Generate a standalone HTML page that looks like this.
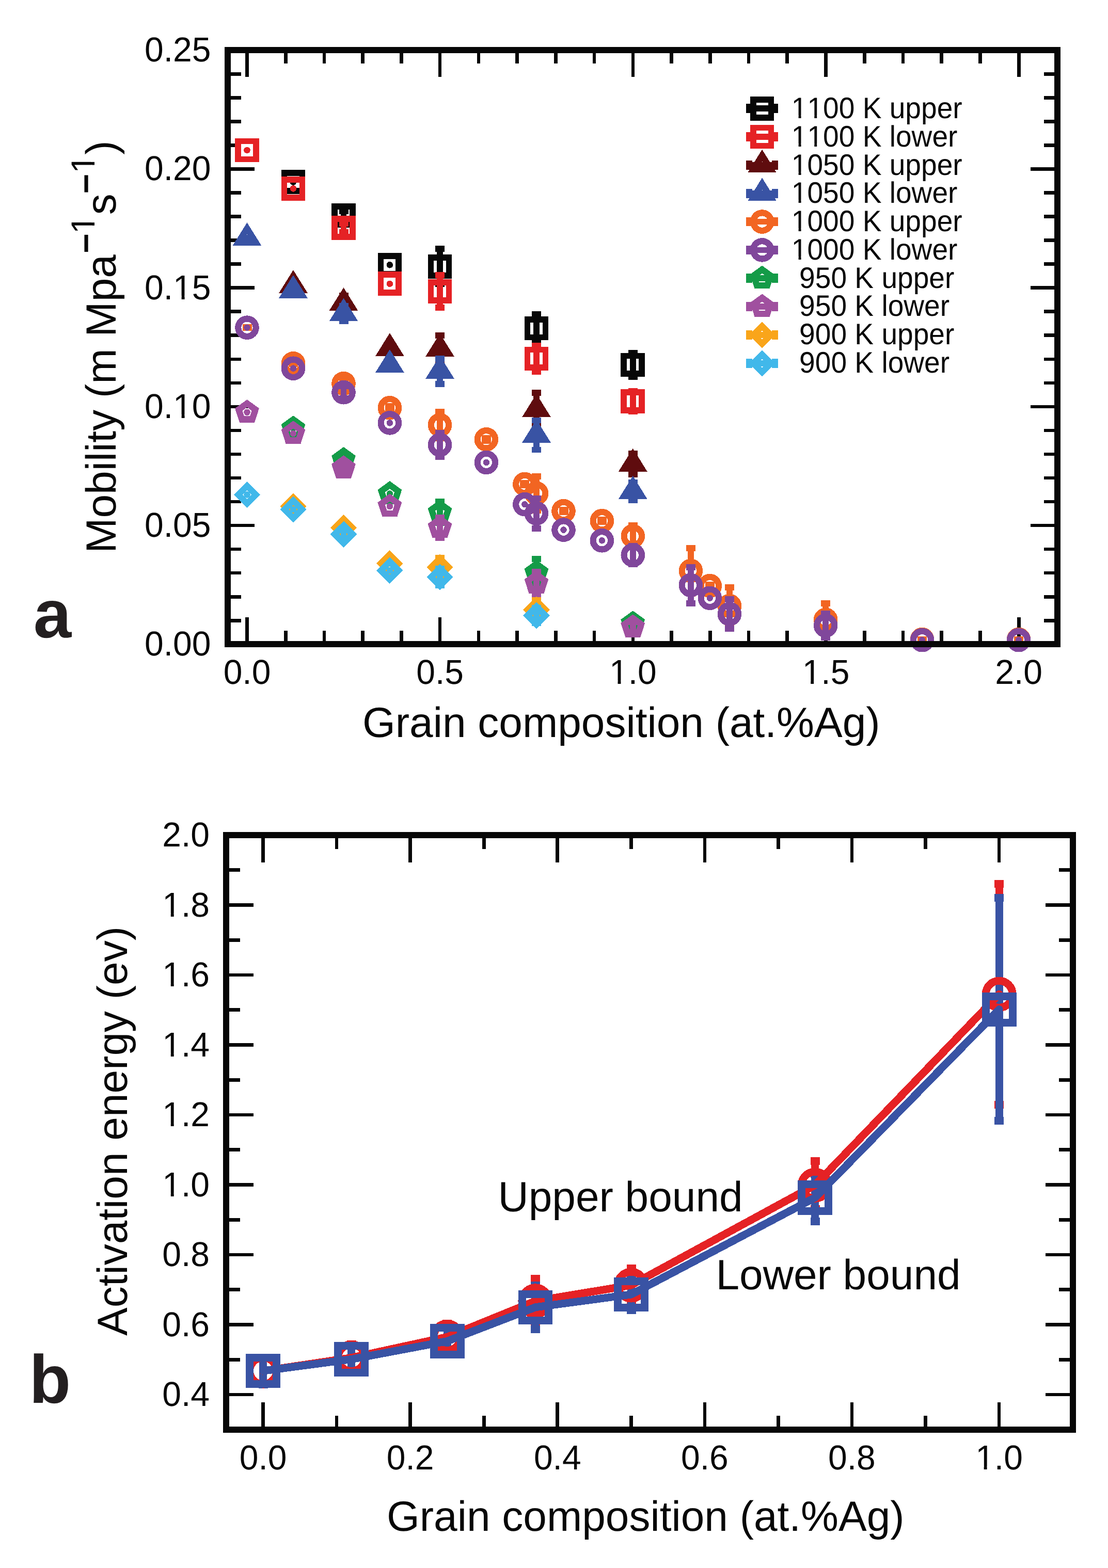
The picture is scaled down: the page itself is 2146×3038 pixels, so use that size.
<!DOCTYPE html>
<html lang="en"><head><meta charset="utf-8"><title>Figure</title>
<style>html,body{margin:0;padding:0;background:#fff}body{width:2146px;height:3038px;overflow:hidden}svg{display:block}.m{fill:#fff;stroke:none;shape-rendering:geometricPrecision}text{font-family:'Liberation Sans', Arial, Helvetica, sans-serif;fill:#070707;font-kerning:none;font-variant-ligatures:none;white-space:pre}</style></head><body>
<svg width="2146" height="3038" viewBox="0 0 2146 3038" shape-rendering="crispEdges" text-rendering="geometricPrecision">
<rect width="2146" height="3038" fill="#fff"/>
<g id="panel-a">
<g stroke="#070707" stroke-width="6.6" fill="none">
<path d="M478.5 97.2v52M478.5 1248.2v-52"/>
<path d="M553.24 97.2v26M553.24 1248.2v-26"/>
<path d="M627.97 97.2v26M627.97 1248.2v-26"/>
<path d="M702.71 97.2v26M702.71 1248.2v-26"/>
<path d="M777.44 97.2v26M777.44 1248.2v-26"/>
<path d="M852.17 97.2v52M852.17 1248.2v-52"/>
<path d="M926.91 97.2v26M926.91 1248.2v-26"/>
<path d="M1001.64 97.2v26M1001.64 1248.2v-26"/>
<path d="M1076.38 97.2v26M1076.38 1248.2v-26"/>
<path d="M1151.12 97.2v26M1151.12 1248.2v-26"/>
<path d="M1225.85 97.2v52M1225.85 1248.2v-52"/>
<path d="M1300.59 97.2v26M1300.59 1248.2v-26"/>
<path d="M1375.32 97.2v26M1375.32 1248.2v-26"/>
<path d="M1450.06 97.2v26M1450.06 1248.2v-26"/>
<path d="M1524.79 97.2v26M1524.79 1248.2v-26"/>
<path d="M1599.53 97.2v52M1599.53 1248.2v-52"/>
<path d="M1674.26 97.2v26M1674.26 1248.2v-26"/>
<path d="M1749 97.2v26M1749 1248.2v-26"/>
<path d="M1823.73 97.2v26M1823.73 1248.2v-26"/>
<path d="M1898.46 97.2v26M1898.46 1248.2v-26"/>
<path d="M1973.2 97.2v52M1973.2 1248.2v-52"/>
<path d="M441 1202.26h26M2048 1202.26h-26"/>
<path d="M441 1156.22h26M2048 1156.22h-26"/>
<path d="M441 1110.18h26M2048 1110.18h-26"/>
<path d="M441 1064.14h26M2048 1064.14h-26"/>
<path d="M441 1018.1h52M2048 1018.1h-52"/>
<path d="M441 972.06h26M2048 972.06h-26"/>
<path d="M441 926.02h26M2048 926.02h-26"/>
<path d="M441 879.98h26M2048 879.98h-26"/>
<path d="M441 833.94h26M2048 833.94h-26"/>
<path d="M441 787.9h52M2048 787.9h-52"/>
<path d="M441 741.86h26M2048 741.86h-26"/>
<path d="M441 695.82h26M2048 695.82h-26"/>
<path d="M441 649.78h26M2048 649.78h-26"/>
<path d="M441 603.74h26M2048 603.74h-26"/>
<path d="M441 557.7h52M2048 557.7h-52"/>
<path d="M441 511.66h26M2048 511.66h-26"/>
<path d="M441 465.62h26M2048 465.62h-26"/>
<path d="M441 419.58h26M2048 419.58h-26"/>
<path d="M441 373.54h26M2048 373.54h-26"/>
<path d="M441 327.5h52M2048 327.5h-52"/>
<path d="M441 281.46h26M2048 281.46h-26"/>
<path d="M441 235.42h26M2048 235.42h-26"/>
<path d="M441 189.38h26M2048 189.38h-26"/>
<path d="M441 143.34h26M2048 143.34h-26"/>
</g>
<g color="#070707" stroke="#070707" stroke-width="11.75" fill="none" stroke-linejoin="miter" stroke-miterlimit="10">
<circle cx="478.5" cy="291" r="6.3" stroke="none" fill="currentColor"/>
<rect x="461.05" y="273.55" width="34.9" height="34.9"/>
<circle cx="568" cy="352.6" r="6.3" stroke="none" fill="currentColor"/>
<rect x="550.55" y="335.15" width="34.9" height="34.9"/>
<rect x="659.62" y="409" width="11.75" height="16.8" stroke="none" fill="currentColor"/><rect x="656.5" y="403.12" width="18" height="11.75" stroke="none" fill="currentColor"/><rect x="656.5" y="419.92" width="18" height="11.75" stroke="none" fill="currentColor"/>
<rect x="648.05" y="399.95" width="34.9" height="34.9"/>
<circle cx="754.9" cy="513.3" r="6.3" stroke="none" fill="currentColor"/>
<rect x="737.45" y="495.85" width="34.9" height="34.9"/>
<rect x="846.12" y="482.2" width="11.75" height="68" stroke="none" fill="currentColor"/><rect x="843" y="476.33" width="18" height="11.75" stroke="none" fill="currentColor"/><rect x="843" y="544.33" width="18" height="11.75" stroke="none" fill="currentColor"/>
<rect x="834.55" y="498.75" width="34.9" height="34.9"/>
<rect x="1033.12" y="609" width="11.75" height="54.2" stroke="none" fill="currentColor"/><rect x="1030" y="603.12" width="18" height="11.75" stroke="none" fill="currentColor"/><rect x="1030" y="657.33" width="18" height="11.75" stroke="none" fill="currentColor"/>
<rect x="1021.55" y="618.65" width="34.9" height="34.9"/>
<rect x="1219.92" y="683.9" width="11.75" height="46" stroke="none" fill="currentColor"/><rect x="1216.8" y="678.02" width="18" height="11.75" stroke="none" fill="currentColor"/><rect x="1216.8" y="724.02" width="18" height="11.75" stroke="none" fill="currentColor"/>
<rect x="1208.35" y="689.45" width="34.9" height="34.9"/>
</g>
<g color="#e52225" stroke="#e52225" stroke-width="11.75" fill="none" stroke-linejoin="miter" stroke-miterlimit="10">
<circle cx="478.5" cy="291" r="6.3" stroke="none" fill="currentColor"/>
<rect x="461.05" y="273.55" width="34.9" height="34.9"/>
<circle cx="568" cy="365.4" r="6.3" stroke="none" fill="currentColor"/>
<rect x="550.55" y="347.95" width="34.9" height="34.9"/>
<rect x="659.62" y="433.1" width="11.75" height="16.8" stroke="none" fill="currentColor"/><rect x="656.5" y="427.23" width="18" height="11.75" stroke="none" fill="currentColor"/><rect x="656.5" y="444.02" width="18" height="11.75" stroke="none" fill="currentColor"/>
<rect x="648.05" y="424.05" width="34.9" height="34.9"/>
<circle cx="754.9" cy="549.8" r="6.3" stroke="none" fill="currentColor"/>
<rect x="737.45" y="532.35" width="34.9" height="34.9"/>
<rect x="846.12" y="532.7" width="11.75" height="63.4" stroke="none" fill="currentColor"/><rect x="843" y="526.82" width="18" height="11.75" stroke="none" fill="currentColor"/><rect x="843" y="590.23" width="18" height="11.75" stroke="none" fill="currentColor"/>
<rect x="834.55" y="546.95" width="34.9" height="34.9"/>
<rect x="1033.12" y="669.8" width="11.75" height="50.2" stroke="none" fill="currentColor"/><rect x="1030" y="663.92" width="18" height="11.75" stroke="none" fill="currentColor"/><rect x="1030" y="714.12" width="18" height="11.75" stroke="none" fill="currentColor"/>
<rect x="1021.55" y="677.45" width="34.9" height="34.9"/>
<rect x="1219.92" y="757.9" width="11.75" height="39" stroke="none" fill="currentColor"/><rect x="1216.8" y="752.02" width="18" height="11.75" stroke="none" fill="currentColor"/><rect x="1216.8" y="791.02" width="18" height="11.75" stroke="none" fill="currentColor"/>
<rect x="1208.35" y="759.95" width="34.9" height="34.9"/>
</g>
<g color="#5f0c0e" stroke="#5f0c0e" stroke-width="11.75" fill="none" stroke-linejoin="miter" stroke-miterlimit="10">
<circle cx="478.5" cy="461.3" r="6.3" stroke="none" fill="currentColor"/>
<path d="M478.5 431.1L506.3 475.8L450.7 475.8ZM478.5 454.2L484.35 463.6L472.65 463.6Z" fill="currentColor" fill-rule="evenodd" stroke="none"/>
<circle cx="568" cy="553.3" r="6.3" stroke="none" fill="currentColor"/>
<path d="M568 523.1L595.8 567.8L540.2 567.8ZM568 546.2L573.85 555.6L562.15 555.6Z" fill="currentColor" fill-rule="evenodd" stroke="none"/>
<rect x="659.62" y="572.9" width="11.75" height="28.8" stroke="none" fill="currentColor"/><rect x="656.5" y="567.02" width="18" height="11.75" stroke="none" fill="currentColor"/><rect x="656.5" y="595.82" width="18" height="11.75" stroke="none" fill="currentColor"/>
<path d="M665.5 557.1L693.3 601.8L637.7 601.8ZM665.5 580.2L671.35 589.6L659.65 589.6Z" fill="currentColor" fill-rule="evenodd" stroke="none"/>
<circle cx="754.9" cy="675.4" r="6.3" stroke="none" fill="currentColor"/>
<path d="M754.9 645.2L782.7 689.9L727.1 689.9ZM754.9 668.3L760.75 677.7L749.05 677.7Z" fill="currentColor" fill-rule="evenodd" stroke="none"/>
<rect x="846.12" y="649.9" width="11.75" height="52.8" stroke="none" fill="currentColor"/><rect x="843" y="644.02" width="18" height="11.75" stroke="none" fill="currentColor"/><rect x="843" y="696.82" width="18" height="11.75" stroke="none" fill="currentColor"/>
<path d="M852 646.1L879.8 690.8L824.2 690.8ZM852 669.2L857.85 678.6L846.15 678.6Z" fill="currentColor" fill-rule="evenodd" stroke="none"/>
<rect x="1033.12" y="760.9" width="11.75" height="65" stroke="none" fill="currentColor"/><rect x="1030" y="755.02" width="18" height="11.75" stroke="none" fill="currentColor"/><rect x="1030" y="820.02" width="18" height="11.75" stroke="none" fill="currentColor"/>
<path d="M1039 763.2L1066.8 807.9L1011.2 807.9ZM1039 786.3L1044.85 795.7L1033.15 795.7Z" fill="currentColor" fill-rule="evenodd" stroke="none"/>
<rect x="1219.92" y="879" width="11.75" height="40" stroke="none" fill="currentColor"/><rect x="1216.8" y="873.12" width="18" height="11.75" stroke="none" fill="currentColor"/><rect x="1216.8" y="913.12" width="18" height="11.75" stroke="none" fill="currentColor"/>
<path d="M1225.8 868.8L1253.6 913.5L1198 913.5ZM1225.8 891.9L1231.65 901.3L1219.95 901.3Z" fill="currentColor" fill-rule="evenodd" stroke="none"/>
</g>
<g color="#3953a4" stroke="#3953a4" stroke-width="11.75" fill="none" stroke-linejoin="miter" stroke-miterlimit="10">
<circle cx="478.5" cy="461.3" r="6.3" stroke="none" fill="currentColor"/>
<path d="M478.5 431.1L506.3 475.8L450.7 475.8ZM478.5 454.2L484.35 463.6L472.65 463.6Z" fill="currentColor" fill-rule="evenodd" stroke="none"/>
<circle cx="568" cy="563.1" r="6.3" stroke="none" fill="currentColor"/>
<path d="M568 532.9L595.8 577.6L540.2 577.6ZM568 556L573.85 565.4L562.15 565.4Z" fill="currentColor" fill-rule="evenodd" stroke="none"/>
<rect x="659.62" y="593.2" width="11.75" height="29" stroke="none" fill="currentColor"/><rect x="656.5" y="587.33" width="18" height="11.75" stroke="none" fill="currentColor"/><rect x="656.5" y="616.33" width="18" height="11.75" stroke="none" fill="currentColor"/>
<path d="M665.5 577.5L693.3 622.2L637.7 622.2ZM665.5 600.6L671.35 610L659.65 610Z" fill="currentColor" fill-rule="evenodd" stroke="none"/>
<circle cx="754.9" cy="707.2" r="6.3" stroke="none" fill="currentColor"/>
<path d="M754.9 677L782.7 721.7L727.1 721.7ZM754.9 700.1L760.75 709.5L749.05 709.5Z" fill="currentColor" fill-rule="evenodd" stroke="none"/>
<rect x="846.12" y="694.8" width="11.75" height="49" stroke="none" fill="currentColor"/><rect x="843" y="688.92" width="18" height="11.75" stroke="none" fill="currentColor"/><rect x="843" y="737.92" width="18" height="11.75" stroke="none" fill="currentColor"/>
<path d="M852 689.1L879.8 733.8L824.2 733.8ZM852 712.2L857.85 721.6L846.15 721.6Z" fill="currentColor" fill-rule="evenodd" stroke="none"/>
<rect x="1033.12" y="814.5" width="11.75" height="57" stroke="none" fill="currentColor"/><rect x="1030" y="808.62" width="18" height="11.75" stroke="none" fill="currentColor"/><rect x="1030" y="865.62" width="18" height="11.75" stroke="none" fill="currentColor"/>
<path d="M1039 812.8L1066.8 857.5L1011.2 857.5ZM1039 835.9L1044.85 845.3L1033.15 845.3Z" fill="currentColor" fill-rule="evenodd" stroke="none"/>
<rect x="1219.92" y="935.2" width="11.75" height="34" stroke="none" fill="currentColor"/><rect x="1216.8" y="929.33" width="18" height="11.75" stroke="none" fill="currentColor"/><rect x="1216.8" y="963.33" width="18" height="11.75" stroke="none" fill="currentColor"/>
<path d="M1225.8 922L1253.6 966.7L1198 966.7ZM1225.8 945.1L1231.65 954.5L1219.95 954.5Z" fill="currentColor" fill-rule="evenodd" stroke="none"/>
</g>
<g color="#f26522" stroke="#f26522" stroke-width="11.75" fill="none" stroke-linejoin="miter" stroke-miterlimit="10">
<rect x="472.62" y="634.2" width="11.75" height="1" stroke="none" fill="currentColor"/><rect x="469.5" y="628.33" width="18" height="11.75" stroke="none" fill="currentColor"/><rect x="469.5" y="629.33" width="18" height="11.75" stroke="none" fill="currentColor"/>
<circle cx="478.5" cy="634.7" r="17.2" stroke-width="12.2"/>
<rect x="562.12" y="703.3" width="11.75" height="2" stroke="none" fill="currentColor"/><rect x="559" y="697.42" width="18" height="11.75" stroke="none" fill="currentColor"/><rect x="559" y="699.42" width="18" height="11.75" stroke="none" fill="currentColor"/>
<circle cx="568" cy="704.3" r="17.2" stroke-width="12.2"/>
<rect x="659.62" y="733.1" width="11.75" height="20" stroke="none" fill="currentColor"/><rect x="656.5" y="727.23" width="18" height="11.75" stroke="none" fill="currentColor"/><rect x="656.5" y="747.23" width="18" height="11.75" stroke="none" fill="currentColor"/>
<circle cx="665.5" cy="743.1" r="17.2" stroke-width="12.2"/>
<rect x="749.02" y="787.2" width="11.75" height="6" stroke="none" fill="currentColor"/><rect x="745.9" y="781.33" width="18" height="11.75" stroke="none" fill="currentColor"/><rect x="745.9" y="787.33" width="18" height="11.75" stroke="none" fill="currentColor"/>
<circle cx="754.9" cy="790.2" r="17.2" stroke-width="12.2"/>
<rect x="846.12" y="797.9" width="11.75" height="51.2" stroke="none" fill="currentColor"/><rect x="843" y="792.02" width="18" height="11.75" stroke="none" fill="currentColor"/><rect x="843" y="843.23" width="18" height="11.75" stroke="none" fill="currentColor"/>
<circle cx="852" cy="823.5" r="17.2" stroke-width="12.2"/>
<rect x="936.02" y="848.8" width="11.75" height="5" stroke="none" fill="currentColor"/><rect x="932.9" y="842.92" width="18" height="11.75" stroke="none" fill="currentColor"/><rect x="932.9" y="847.92" width="18" height="11.75" stroke="none" fill="currentColor"/>
<circle cx="941.9" cy="851.3" r="17.2" stroke-width="12.2"/>
<rect x="1010.52" y="936" width="11.75" height="4" stroke="none" fill="currentColor"/><rect x="1007.4" y="930.12" width="18" height="11.75" stroke="none" fill="currentColor"/><rect x="1007.4" y="934.12" width="18" height="11.75" stroke="none" fill="currentColor"/>
<circle cx="1016.4" cy="938" r="17.2" stroke-width="12.2"/>
<rect x="1033.12" y="922.9" width="11.75" height="65.8" stroke="none" fill="currentColor"/><rect x="1030" y="917.02" width="18" height="11.75" stroke="none" fill="currentColor"/><rect x="1030" y="982.82" width="18" height="11.75" stroke="none" fill="currentColor"/>
<circle cx="1039" cy="955.8" r="17.2" stroke-width="12.2"/>
<rect x="1085.62" y="988.1" width="11.75" height="4" stroke="none" fill="currentColor"/><rect x="1082.5" y="982.23" width="18" height="11.75" stroke="none" fill="currentColor"/><rect x="1082.5" y="986.23" width="18" height="11.75" stroke="none" fill="currentColor"/>
<circle cx="1091.5" cy="990.1" r="17.2" stroke-width="12.2"/>
<rect x="1160.03" y="1007.2" width="11.75" height="4" stroke="none" fill="currentColor"/><rect x="1156.9" y="1001.33" width="18" height="11.75" stroke="none" fill="currentColor"/><rect x="1156.9" y="1005.33" width="18" height="11.75" stroke="none" fill="currentColor"/>
<circle cx="1165.9" cy="1009.2" r="17.2" stroke-width="12.2"/>
<rect x="1219.92" y="1018" width="11.75" height="41.4" stroke="none" fill="currentColor"/><rect x="1216.8" y="1012.12" width="18" height="11.75" stroke="none" fill="currentColor"/><rect x="1216.8" y="1053.53" width="18" height="11.75" stroke="none" fill="currentColor"/>
<circle cx="1225.8" cy="1038.7" r="17.2" stroke-width="12.2"/>
<rect x="1332.03" y="1062" width="11.75" height="88" stroke="none" fill="currentColor"/><rect x="1328.9" y="1056.12" width="18" height="11.75" stroke="none" fill="currentColor"/><rect x="1328.9" y="1144.12" width="18" height="11.75" stroke="none" fill="currentColor"/>
<circle cx="1337.9" cy="1106" r="17.2" stroke-width="12.2"/>
<rect x="1368.92" y="1133.1" width="11.75" height="4" stroke="none" fill="currentColor"/><rect x="1365.8" y="1127.22" width="18" height="11.75" stroke="none" fill="currentColor"/><rect x="1365.8" y="1131.22" width="18" height="11.75" stroke="none" fill="currentColor"/>
<circle cx="1374.8" cy="1135.1" r="17.2" stroke-width="12.2"/>
<rect x="1407.12" y="1138" width="11.75" height="72" stroke="none" fill="currentColor"/><rect x="1404" y="1132.12" width="18" height="11.75" stroke="none" fill="currentColor"/><rect x="1404" y="1204.12" width="18" height="11.75" stroke="none" fill="currentColor"/>
<circle cx="1413" cy="1174" r="17.2" stroke-width="12.2"/>
<rect x="1593.33" y="1169" width="11.75" height="63.6" stroke="none" fill="currentColor"/><rect x="1590.2" y="1163.12" width="18" height="11.75" stroke="none" fill="currentColor"/><rect x="1590.2" y="1226.72" width="18" height="11.75" stroke="none" fill="currentColor"/>
<circle cx="1599.2" cy="1200.8" r="17.2" stroke-width="12.2"/>
<rect x="1780.22" y="1238.5" width="11.75" height="1" stroke="none" fill="currentColor"/><rect x="1777.1" y="1232.62" width="18" height="11.75" stroke="none" fill="currentColor"/><rect x="1777.1" y="1233.62" width="18" height="11.75" stroke="none" fill="currentColor"/>
<circle cx="1786.1" cy="1239" r="17.2" stroke-width="12.2"/>
<rect x="1967.12" y="1238.5" width="11.75" height="1" stroke="none" fill="currentColor"/><rect x="1964" y="1232.62" width="18" height="11.75" stroke="none" fill="currentColor"/><rect x="1964" y="1233.62" width="18" height="11.75" stroke="none" fill="currentColor"/>
<circle cx="1973" cy="1239" r="17.2" stroke-width="12.2"/>
</g>
<g color="#80479b" stroke="#80479b" stroke-width="11.75" fill="none" stroke-linejoin="miter" stroke-miterlimit="10">
<circle cx="478.5" cy="634.7" r="6.3" stroke="none" fill="currentColor"/>
<circle cx="478.5" cy="634.7" r="17.2" stroke-width="12.2"/>
<circle cx="568" cy="713.7" r="6.3" stroke="none" fill="currentColor"/>
<circle cx="568" cy="713.7" r="17.2" stroke-width="12.2"/>
<rect x="659.62" y="748.2" width="11.75" height="24" stroke="none" fill="currentColor"/><rect x="656.5" y="742.33" width="18" height="11.75" stroke="none" fill="currentColor"/><rect x="656.5" y="766.33" width="18" height="11.75" stroke="none" fill="currentColor"/>
<circle cx="665.5" cy="760.2" r="17.2" stroke-width="12.2"/>
<circle cx="754.9" cy="819.4" r="6.3" stroke="none" fill="currentColor"/>
<circle cx="754.9" cy="819.4" r="17.2" stroke-width="12.2"/>
<rect x="846.12" y="839.15" width="11.75" height="45.7" stroke="none" fill="currentColor"/><rect x="843" y="833.27" width="18" height="11.75" stroke="none" fill="currentColor"/><rect x="843" y="878.98" width="18" height="11.75" stroke="none" fill="currentColor"/>
<circle cx="852" cy="862" r="17.2" stroke-width="12.2"/>
<circle cx="941.9" cy="895.9" r="6.3" stroke="none" fill="currentColor"/>
<circle cx="941.9" cy="895.9" r="17.2" stroke-width="12.2"/>
<circle cx="1016.4" cy="977.2" r="6.3" stroke="none" fill="currentColor"/>
<circle cx="1016.4" cy="977.2" r="17.2" stroke-width="12.2"/>
<rect x="1033.12" y="965.4" width="11.75" height="58.5" stroke="none" fill="currentColor"/><rect x="1030" y="959.52" width="18" height="11.75" stroke="none" fill="currentColor"/><rect x="1030" y="1018.02" width="18" height="11.75" stroke="none" fill="currentColor"/>
<circle cx="1039" cy="994.65" r="17.2" stroke-width="12.2"/>
<circle cx="1091.5" cy="1026.6" r="6.3" stroke="none" fill="currentColor"/>
<circle cx="1091.5" cy="1026.6" r="17.2" stroke-width="12.2"/>
<circle cx="1165.9" cy="1047.3" r="6.3" stroke="none" fill="currentColor"/>
<circle cx="1165.9" cy="1047.3" r="17.2" stroke-width="12.2"/>
<rect x="1219.92" y="1058.3" width="11.75" height="34.6" stroke="none" fill="currentColor"/><rect x="1216.8" y="1052.42" width="18" height="11.75" stroke="none" fill="currentColor"/><rect x="1216.8" y="1087.02" width="18" height="11.75" stroke="none" fill="currentColor"/>
<circle cx="1225.8" cy="1075.6" r="17.2" stroke-width="12.2"/>
<rect x="1332.03" y="1098.8" width="11.75" height="70" stroke="none" fill="currentColor"/><rect x="1328.9" y="1092.92" width="18" height="11.75" stroke="none" fill="currentColor"/><rect x="1328.9" y="1162.92" width="18" height="11.75" stroke="none" fill="currentColor"/>
<circle cx="1337.9" cy="1133.8" r="17.2" stroke-width="12.2"/>
<circle cx="1374.8" cy="1158.8" r="6.3" stroke="none" fill="currentColor"/>
<circle cx="1374.8" cy="1158.8" r="17.2" stroke-width="12.2"/>
<rect x="1407.12" y="1161.35" width="11.75" height="56.5" stroke="none" fill="currentColor"/><rect x="1404" y="1155.47" width="18" height="11.75" stroke="none" fill="currentColor"/><rect x="1404" y="1211.97" width="18" height="11.75" stroke="none" fill="currentColor"/>
<circle cx="1413" cy="1189.6" r="17.2" stroke-width="12.2"/>
<rect x="1593.33" y="1189" width="11.75" height="46" stroke="none" fill="currentColor"/><rect x="1590.2" y="1183.12" width="18" height="11.75" stroke="none" fill="currentColor"/><rect x="1590.2" y="1229.12" width="18" height="11.75" stroke="none" fill="currentColor"/>
<circle cx="1599.2" cy="1212" r="17.2" stroke-width="12.2"/>
<circle cx="1786.1" cy="1240.2" r="6.3" stroke="none" fill="currentColor"/>
<circle cx="1786.1" cy="1240.2" r="17.2" stroke-width="12.2"/>
<circle cx="1973" cy="1240.2" r="6.3" stroke="none" fill="currentColor"/>
<circle cx="1973" cy="1240.2" r="17.2" stroke-width="12.2"/>
</g>
<g color="#149b48" stroke="#149b48" stroke-width="11.75" fill="none" stroke-linejoin="miter" stroke-miterlimit="10">
<circle cx="478.5" cy="798.8" r="6.3" stroke="none" fill="currentColor"/>
<path d="M478.5 774.2L501.9 791.2L492.96 818.7L464.04 818.7L455.1 791.2ZM478.5 789.3L487.54 795.86L484.08 806.49L472.92 806.49L469.46 795.86Z" fill="currentColor" fill-rule="evenodd" stroke="none"/>
<circle cx="568" cy="829.9" r="6.3" stroke="none" fill="currentColor"/>
<path d="M568 805.3L591.4 822.3L582.46 849.8L553.54 849.8L544.6 822.3ZM568 820.4L577.04 826.96L573.58 837.59L562.42 837.59L558.96 826.96Z" fill="currentColor" fill-rule="evenodd" stroke="none"/>
<rect x="659.62" y="886.6" width="11.75" height="8" stroke="none" fill="currentColor"/><rect x="656.5" y="880.73" width="18" height="11.75" stroke="none" fill="currentColor"/><rect x="656.5" y="888.73" width="18" height="11.75" stroke="none" fill="currentColor"/>
<path d="M665.5 866L688.9 883L679.96 910.5L651.04 910.5L642.1 883ZM665.5 881.1L674.54 887.66L671.08 898.29L659.92 898.29L656.46 887.66Z" fill="currentColor" fill-rule="evenodd" stroke="none"/>
<circle cx="754.9" cy="956.6" r="6.3" stroke="none" fill="currentColor"/>
<path d="M754.9 932L778.3 949L769.36 976.5L740.44 976.5L731.5 949ZM754.9 947.1L763.94 953.66L760.48 964.29L749.32 964.29L745.86 953.66Z" fill="currentColor" fill-rule="evenodd" stroke="none"/>
<rect x="846.12" y="972" width="11.75" height="41.2" stroke="none" fill="currentColor"/><rect x="843" y="966.12" width="18" height="11.75" stroke="none" fill="currentColor"/><rect x="843" y="1007.33" width="18" height="11.75" stroke="none" fill="currentColor"/>
<path d="M852 968L875.4 985L866.46 1012.5L837.54 1012.5L828.6 985ZM852 983.1L861.04 989.66L857.58 1000.29L846.42 1000.29L842.96 989.66Z" fill="currentColor" fill-rule="evenodd" stroke="none"/>
<rect x="1033.12" y="1083.1" width="11.75" height="53" stroke="none" fill="currentColor"/><rect x="1030" y="1077.22" width="18" height="11.75" stroke="none" fill="currentColor"/><rect x="1030" y="1130.22" width="18" height="11.75" stroke="none" fill="currentColor"/>
<path d="M1039 1085L1062.4 1102L1053.46 1129.5L1024.54 1129.5L1015.6 1102ZM1039 1100.1L1048.04 1106.66L1044.58 1117.29L1033.42 1117.29L1029.96 1106.66Z" fill="currentColor" fill-rule="evenodd" stroke="none"/>
<rect x="1219.92" y="1201.9" width="11.75" height="12" stroke="none" fill="currentColor"/><rect x="1216.8" y="1196.03" width="18" height="11.75" stroke="none" fill="currentColor"/><rect x="1216.8" y="1208.03" width="18" height="11.75" stroke="none" fill="currentColor"/>
<path d="M1225.8 1183.3L1249.2 1200.3L1240.26 1227.8L1211.34 1227.8L1202.4 1200.3ZM1225.8 1198.4L1234.84 1204.96L1231.38 1215.59L1220.22 1215.59L1216.76 1204.96Z" fill="currentColor" fill-rule="evenodd" stroke="none"/>
</g>
<g color="#a0509f" stroke="#a0509f" stroke-width="11.75" fill="none" stroke-linejoin="miter" stroke-miterlimit="10">
<circle cx="478.5" cy="798.8" r="6.3" stroke="none" fill="currentColor"/>
<path d="M478.5 774.2L501.9 791.2L492.96 818.7L464.04 818.7L455.1 791.2ZM478.5 789.3L487.54 795.86L484.08 806.49L472.92 806.49L469.46 795.86Z" fill="currentColor" fill-rule="evenodd" stroke="none"/>
<circle cx="568" cy="839.8" r="6.3" stroke="none" fill="currentColor"/>
<path d="M568 815.2L591.4 832.2L582.46 859.7L553.54 859.7L544.6 832.2ZM568 830.3L577.04 836.86L573.58 847.49L562.42 847.49L558.96 836.86Z" fill="currentColor" fill-rule="evenodd" stroke="none"/>
<rect x="659.62" y="902.8" width="11.75" height="8" stroke="none" fill="currentColor"/><rect x="656.5" y="896.92" width="18" height="11.75" stroke="none" fill="currentColor"/><rect x="656.5" y="904.92" width="18" height="11.75" stroke="none" fill="currentColor"/>
<path d="M665.5 882.2L688.9 899.2L679.96 926.7L651.04 926.7L642.1 899.2ZM665.5 897.3L674.54 903.86L671.08 914.49L659.92 914.49L656.46 903.86Z" fill="currentColor" fill-rule="evenodd" stroke="none"/>
<circle cx="754.9" cy="981.1" r="6.3" stroke="none" fill="currentColor"/>
<path d="M754.9 956.5L778.3 973.5L769.36 1001L740.44 1001L731.5 973.5ZM754.9 971.6L763.94 978.16L760.48 988.79L749.32 988.79L745.86 978.16Z" fill="currentColor" fill-rule="evenodd" stroke="none"/>
<rect x="846.12" y="1002.9" width="11.75" height="39" stroke="none" fill="currentColor"/><rect x="843" y="997.02" width="18" height="11.75" stroke="none" fill="currentColor"/><rect x="843" y="1036.03" width="18" height="11.75" stroke="none" fill="currentColor"/>
<path d="M852 997.8L875.4 1014.8L866.46 1042.3L837.54 1042.3L828.6 1014.8ZM852 1012.9L861.04 1019.46L857.58 1030.09L846.42 1030.09L842.96 1019.46Z" fill="currentColor" fill-rule="evenodd" stroke="none"/>
<rect x="1033.12" y="1107.9" width="11.75" height="44.2" stroke="none" fill="currentColor"/><rect x="1030" y="1102.03" width="18" height="11.75" stroke="none" fill="currentColor"/><rect x="1030" y="1146.22" width="18" height="11.75" stroke="none" fill="currentColor"/>
<path d="M1039 1105.4L1062.4 1122.4L1053.46 1149.9L1024.54 1149.9L1015.6 1122.4ZM1039 1120.5L1048.04 1127.06L1044.58 1137.69L1033.42 1137.69L1029.96 1127.06Z" fill="currentColor" fill-rule="evenodd" stroke="none"/>
<rect x="1219.92" y="1204.9" width="11.75" height="20" stroke="none" fill="currentColor"/><rect x="1216.8" y="1199.03" width="18" height="11.75" stroke="none" fill="currentColor"/><rect x="1216.8" y="1219.03" width="18" height="11.75" stroke="none" fill="currentColor"/>
<path d="M1225.8 1190.3L1249.2 1207.3L1240.26 1234.8L1211.34 1234.8L1202.4 1207.3ZM1225.8 1205.4L1234.84 1211.96L1231.38 1222.59L1220.22 1222.59L1216.76 1211.96Z" fill="currentColor" fill-rule="evenodd" stroke="none"/>
</g>
<g color="#f9a51a" stroke="#f9a51a" stroke-width="11.75" fill="none" stroke-linejoin="miter" stroke-miterlimit="10">
<circle cx="478.5" cy="958.5" r="6.3" stroke="none" fill="currentColor"/>
<path d="M478.5 932.9L504.1 958.5L478.5 984.1L452.9 958.5ZM478.5 950.15L486.85 958.5L478.5 966.85L470.15 958.5Z" fill="currentColor" fill-rule="evenodd" stroke="none"/>
<circle cx="568" cy="980.8" r="6.3" stroke="none" fill="currentColor"/>
<path d="M568 955.2L593.6 980.8L568 1006.4L542.4 980.8ZM568 972.45L576.35 980.8L568 989.15L559.65 980.8Z" fill="currentColor" fill-rule="evenodd" stroke="none"/>
<rect x="659.62" y="1012.6" width="11.75" height="20" stroke="none" fill="currentColor"/><rect x="656.5" y="1006.73" width="18" height="11.75" stroke="none" fill="currentColor"/><rect x="656.5" y="1026.72" width="18" height="11.75" stroke="none" fill="currentColor"/>
<path d="M665.5 997L691.1 1022.6L665.5 1048.2L639.9 1022.6ZM665.5 1014.25L673.85 1022.6L665.5 1030.95L657.15 1022.6Z" fill="currentColor" fill-rule="evenodd" stroke="none"/>
<circle cx="754.9" cy="1091.6" r="6.3" stroke="none" fill="currentColor"/>
<path d="M754.9 1066L780.5 1091.6L754.9 1117.2L729.3 1091.6ZM754.9 1083.25L763.25 1091.6L754.9 1099.95L746.55 1091.6Z" fill="currentColor" fill-rule="evenodd" stroke="none"/>
<rect x="846.12" y="1080.9" width="11.75" height="36.8" stroke="none" fill="currentColor"/><rect x="843" y="1075.02" width="18" height="11.75" stroke="none" fill="currentColor"/><rect x="843" y="1111.83" width="18" height="11.75" stroke="none" fill="currentColor"/>
<path d="M852 1073.7L877.6 1099.3L852 1124.9L826.4 1099.3ZM852 1090.95L860.35 1099.3L852 1107.65L843.65 1099.3Z" fill="currentColor" fill-rule="evenodd" stroke="none"/>
<rect x="1033.12" y="1162.6" width="11.75" height="37.8" stroke="none" fill="currentColor"/><rect x="1030" y="1156.72" width="18" height="11.75" stroke="none" fill="currentColor"/><rect x="1030" y="1194.53" width="18" height="11.75" stroke="none" fill="currentColor"/>
<path d="M1039 1155.9L1064.6 1181.5L1039 1207.1L1013.4 1181.5ZM1039 1173.15L1047.35 1181.5L1039 1189.85L1030.65 1181.5Z" fill="currentColor" fill-rule="evenodd" stroke="none"/>
</g>
<g color="#41b8ea" stroke="#41b8ea" stroke-width="11.75" fill="none" stroke-linejoin="miter" stroke-miterlimit="10">
<circle cx="478.5" cy="958.5" r="6.3" stroke="none" fill="currentColor"/>
<path d="M478.5 932.9L504.1 958.5L478.5 984.1L452.9 958.5ZM478.5 950.15L486.85 958.5L478.5 966.85L470.15 958.5Z" fill="currentColor" fill-rule="evenodd" stroke="none"/>
<circle cx="568" cy="987.3" r="6.3" stroke="none" fill="currentColor"/>
<path d="M568 961.7L593.6 987.3L568 1012.9L542.4 987.3ZM568 978.95L576.35 987.3L568 995.65L559.65 987.3Z" fill="currentColor" fill-rule="evenodd" stroke="none"/>
<rect x="659.62" y="1025.1" width="11.75" height="20" stroke="none" fill="currentColor"/><rect x="656.5" y="1019.22" width="18" height="11.75" stroke="none" fill="currentColor"/><rect x="656.5" y="1039.22" width="18" height="11.75" stroke="none" fill="currentColor"/>
<path d="M665.5 1009.5L691.1 1035.1L665.5 1060.7L639.9 1035.1ZM665.5 1026.75L673.85 1035.1L665.5 1043.45L657.15 1035.1Z" fill="currentColor" fill-rule="evenodd" stroke="none"/>
<circle cx="754.9" cy="1105.4" r="6.3" stroke="none" fill="currentColor"/>
<path d="M754.9 1079.8L780.5 1105.4L754.9 1131L729.3 1105.4ZM754.9 1097.05L763.25 1105.4L754.9 1113.75L746.55 1105.4Z" fill="currentColor" fill-rule="evenodd" stroke="none"/>
<rect x="846.12" y="1101.4" width="11.75" height="32.8" stroke="none" fill="currentColor"/><rect x="843" y="1095.52" width="18" height="11.75" stroke="none" fill="currentColor"/><rect x="843" y="1128.33" width="18" height="11.75" stroke="none" fill="currentColor"/>
<path d="M852 1092.2L877.6 1117.8L852 1143.4L826.4 1117.8ZM852 1109.45L860.35 1117.8L852 1126.15L843.65 1117.8Z" fill="currentColor" fill-rule="evenodd" stroke="none"/>
<rect x="1033.12" y="1178.3" width="11.75" height="28.4" stroke="none" fill="currentColor"/><rect x="1030" y="1172.42" width="18" height="11.75" stroke="none" fill="currentColor"/><rect x="1030" y="1200.83" width="18" height="11.75" stroke="none" fill="currentColor"/>
<path d="M1039 1166.9L1064.6 1192.5L1039 1218.1L1013.4 1192.5ZM1039 1184.15L1047.35 1192.5L1039 1200.85L1030.65 1192.5Z" fill="currentColor" fill-rule="evenodd" stroke="none"/>
</g>
<rect x="441" y="97.2" width="1607" height="1151" fill="none" stroke="#070707" stroke-width="11.9"/>
<g color="#070707" stroke="#070707" stroke-width="11.75" fill="none" stroke-linejoin="miter" stroke-miterlimit="10">
<rect x="1451.1" y="204.32" width="50" height="11.75" stroke="none" fill="currentColor"/>
<rect x="1445.22" y="201.3" width="11.75" height="17.8" stroke="none" fill="currentColor"/>
<rect x="1495.22" y="201.3" width="11.75" height="17.8" stroke="none" fill="currentColor"/>
<rect x="1458.65" y="192.75" width="34.9" height="34.9"/>
</g>
<g transform="translate(1532.8 229.2) scale(1 1.045)">
<text font-size="55.1">1100 K upper</text>
<rect class="m" x="2.76" y="-5.52" width="11.05" height="6.72"/>
<rect class="m" x="18.77" y="-5.52" width="10.47" height="6.72"/>
<rect class="m" x="33.4" y="-5.52" width="11.05" height="6.72"/>
<rect class="m" x="49.42" y="-5.52" width="10.47" height="6.72"/>
</g>
<g color="#e52225" stroke="#e52225" stroke-width="11.75" fill="none" stroke-linejoin="miter" stroke-miterlimit="10">
<rect x="1451.1" y="259.16" width="50" height="11.75" stroke="none" fill="currentColor"/>
<rect x="1445.22" y="256.14" width="11.75" height="17.8" stroke="none" fill="currentColor"/>
<rect x="1495.22" y="256.14" width="11.75" height="17.8" stroke="none" fill="currentColor"/>
<rect x="1458.65" y="247.59" width="34.9" height="34.9"/>
</g>
<g transform="translate(1532.8 283.92) scale(1 1.045)">
<text font-size="55.1">1100 K lower</text>
<rect class="m" x="2.76" y="-5.52" width="11.05" height="6.72"/>
<rect class="m" x="18.77" y="-5.52" width="10.47" height="6.72"/>
<rect class="m" x="33.4" y="-5.52" width="11.05" height="6.72"/>
<rect class="m" x="49.42" y="-5.52" width="10.47" height="6.72"/>
</g>
<g color="#5f0c0e" stroke="#5f0c0e" stroke-width="11.75" fill="none" stroke-linejoin="miter" stroke-miterlimit="10">
<rect x="1451.1" y="314" width="50" height="11.75" stroke="none" fill="currentColor"/>
<rect x="1445.22" y="310.98" width="11.75" height="17.8" stroke="none" fill="currentColor"/>
<rect x="1495.22" y="310.98" width="11.75" height="17.8" stroke="none" fill="currentColor"/>
<path d="M1476.1 289.68L1503.9 334.38L1448.3 334.38ZM1476.1 312.78L1481.95 322.18L1470.25 322.18Z" fill="currentColor" fill-rule="evenodd" stroke="none"/>
</g>
<g transform="translate(1532.8 338.64) scale(1 1.045)">
<text font-size="55.1">1050 K upper</text>
<rect class="m" x="2.76" y="-5.52" width="11.05" height="6.72"/>
<rect class="m" x="18.77" y="-5.52" width="10.47" height="6.72"/>
</g>
<g color="#3953a4" stroke="#3953a4" stroke-width="11.75" fill="none" stroke-linejoin="miter" stroke-miterlimit="10">
<rect x="1451.1" y="368.85" width="50" height="11.75" stroke="none" fill="currentColor"/>
<rect x="1445.22" y="365.82" width="11.75" height="17.8" stroke="none" fill="currentColor"/>
<rect x="1495.22" y="365.82" width="11.75" height="17.8" stroke="none" fill="currentColor"/>
<path d="M1476.1 344.52L1503.9 389.22L1448.3 389.22ZM1476.1 367.62L1481.95 377.02L1470.25 377.02Z" fill="currentColor" fill-rule="evenodd" stroke="none"/>
</g>
<g transform="translate(1532.8 393.36) scale(1 1.045)">
<text font-size="55.1">1050 K lower</text>
<rect class="m" x="2.76" y="-5.52" width="11.05" height="6.72"/>
<rect class="m" x="18.77" y="-5.52" width="10.47" height="6.72"/>
</g>
<g color="#f26522" stroke="#f26522" stroke-width="11.75" fill="none" stroke-linejoin="miter" stroke-miterlimit="10">
<rect x="1451.1" y="423.69" width="50" height="11.75" stroke="none" fill="currentColor"/>
<rect x="1445.22" y="420.66" width="11.75" height="17.8" stroke="none" fill="currentColor"/>
<rect x="1495.22" y="420.66" width="11.75" height="17.8" stroke="none" fill="currentColor"/>
<circle cx="1476.1" cy="429.56" r="17.2" stroke-width="12.2"/>
</g>
<g transform="translate(1532.8 448.08) scale(1 1.045)">
<text font-size="55.1">1000 K upper</text>
<rect class="m" x="2.76" y="-5.52" width="11.05" height="6.72"/>
<rect class="m" x="18.77" y="-5.52" width="10.47" height="6.72"/>
</g>
<g color="#80479b" stroke="#80479b" stroke-width="11.75" fill="none" stroke-linejoin="miter" stroke-miterlimit="10">
<rect x="1451.1" y="478.53" width="50" height="11.75" stroke="none" fill="currentColor"/>
<rect x="1445.22" y="475.5" width="11.75" height="17.8" stroke="none" fill="currentColor"/>
<rect x="1495.22" y="475.5" width="11.75" height="17.8" stroke="none" fill="currentColor"/>
<circle cx="1476.1" cy="484.4" r="17.2" stroke-width="12.2"/>
</g>
<g transform="translate(1532.8 502.8) scale(1 1.045)">
<text font-size="55.1">1000 K lower</text>
<rect class="m" x="2.76" y="-5.52" width="11.05" height="6.72"/>
<rect class="m" x="18.77" y="-5.52" width="10.47" height="6.72"/>
</g>
<g color="#149b48" stroke="#149b48" stroke-width="11.75" fill="none" stroke-linejoin="miter" stroke-miterlimit="10">
<rect x="1451.1" y="533.37" width="50" height="11.75" stroke="none" fill="currentColor"/>
<rect x="1445.22" y="530.34" width="11.75" height="17.8" stroke="none" fill="currentColor"/>
<rect x="1495.22" y="530.34" width="11.75" height="17.8" stroke="none" fill="currentColor"/>
<path d="M1476.1 514.64L1499.5 531.64L1490.56 559.14L1461.64 559.14L1452.7 531.64ZM1476.1 529.74L1485.14 536.3L1481.68 546.93L1470.52 546.93L1467.06 536.3Z" fill="currentColor" fill-rule="evenodd" stroke="none"/>
</g>
<g transform="translate(1532.8 557.52) scale(1 1.045)">
<text font-size="55.1"> 950 K upper</text>
</g>
<g color="#a0509f" stroke="#a0509f" stroke-width="11.75" fill="none" stroke-linejoin="miter" stroke-miterlimit="10">
<rect x="1451.1" y="588.2" width="50" height="11.75" stroke="none" fill="currentColor"/>
<rect x="1445.22" y="585.18" width="11.75" height="17.8" stroke="none" fill="currentColor"/>
<rect x="1495.22" y="585.18" width="11.75" height="17.8" stroke="none" fill="currentColor"/>
<path d="M1476.1 569.48L1499.5 586.48L1490.56 613.98L1461.64 613.98L1452.7 586.48ZM1476.1 584.58L1485.14 591.14L1481.68 601.77L1470.52 601.77L1467.06 591.14Z" fill="currentColor" fill-rule="evenodd" stroke="none"/>
</g>
<g transform="translate(1532.8 612.24) scale(1 1.045)">
<text font-size="55.1"> 950 K lower</text>
</g>
<g color="#f9a51a" stroke="#f9a51a" stroke-width="11.75" fill="none" stroke-linejoin="miter" stroke-miterlimit="10">
<rect x="1451.1" y="643.05" width="50" height="11.75" stroke="none" fill="currentColor"/>
<rect x="1445.22" y="640.02" width="11.75" height="17.8" stroke="none" fill="currentColor"/>
<rect x="1495.22" y="640.02" width="11.75" height="17.8" stroke="none" fill="currentColor"/>
<path d="M1476.1 623.32L1501.7 648.92L1476.1 674.52L1450.5 648.92ZM1476.1 640.57L1484.45 648.92L1476.1 657.27L1467.75 648.92Z" fill="currentColor" fill-rule="evenodd" stroke="none"/>
</g>
<g transform="translate(1532.8 666.96) scale(1 1.045)">
<text font-size="55.1"> 900 K upper</text>
</g>
<g color="#41b8ea" stroke="#41b8ea" stroke-width="11.75" fill="none" stroke-linejoin="miter" stroke-miterlimit="10">
<rect x="1451.1" y="697.88" width="50" height="11.75" stroke="none" fill="currentColor"/>
<rect x="1445.22" y="694.86" width="11.75" height="17.8" stroke="none" fill="currentColor"/>
<rect x="1495.22" y="694.86" width="11.75" height="17.8" stroke="none" fill="currentColor"/>
<path d="M1476.1 678.16L1501.7 703.76L1476.1 729.36L1450.5 703.76ZM1476.1 695.41L1484.45 703.76L1476.1 712.11L1467.75 703.76Z" fill="currentColor" fill-rule="evenodd" stroke="none"/>
</g>
<g transform="translate(1532.8 721.68) scale(1 1.045)">
<text font-size="55.1"> 900 K lower</text>
</g>
<g transform="translate(280.04 1270.1) scale(1 1.015)">
<text font-size="66">0.00</text>
</g>
<g transform="translate(280.04 1039.9) scale(1 1.015)">
<text font-size="66">0.05</text>
</g>
<g transform="translate(280.04 809.7) scale(1 1.015)">
<text font-size="66">0.10</text>
<rect class="m" x="58.34" y="-6.33" width="13.25" height="7.53"/>
<rect class="m" x="77.52" y="-6.33" width="12.54" height="7.53"/>
</g>
<g transform="translate(280.04 579.5) scale(1 1.015)">
<text font-size="66">0.15</text>
<rect class="m" x="58.34" y="-6.33" width="13.25" height="7.53"/>
<rect class="m" x="77.52" y="-6.33" width="12.54" height="7.53"/>
</g>
<g transform="translate(280.04 349.3) scale(1 1.015)">
<text font-size="66">0.20</text>
</g>
<g transform="translate(280.04 119.1) scale(1 1.015)">
<text font-size="66">0.25</text>
</g>
<g transform="translate(432.63 1325.3) scale(1 1.015)">
<text font-size="66">0.0</text>
</g>
<g transform="translate(806.3 1325.3) scale(1 1.015)">
<text font-size="66">0.5</text>
</g>
<g transform="translate(1179.98 1325.3) scale(1 1.015)">
<text font-size="66">1.0</text>
<rect class="m" x="3.3" y="-6.33" width="13.25" height="7.53"/>
<rect class="m" x="22.48" y="-6.33" width="12.54" height="7.53"/>
</g>
<g transform="translate(1553.65 1325.3) scale(1 1.015)">
<text font-size="66">1.5</text>
<rect class="m" x="3.3" y="-6.33" width="13.25" height="7.53"/>
<rect class="m" x="22.48" y="-6.33" width="12.54" height="7.53"/>
</g>
<g transform="translate(1927.33 1325.3) scale(1 1.015)">
<text font-size="66">2.0</text>
</g>
<text x="702" y="1428" font-size="82">Grain composition (at.%Ag)</text>
<g transform="translate(224.2 1071.8) rotate(-90)">
<text x="0" y="0" font-size="82">Mobility (m Mpa<tspan x="581" y="-35.4" font-size="66" font-weight="bold">−</tspan><tspan x="618.7" y="-41.3" font-size="64.5">1</tspan><tspan x="655.6" y="0">s</tspan><tspan x="696.5" y="-35.4" font-size="66" font-weight="bold">−</tspan><tspan x="736" y="-41.3" font-size="64.5">1</tspan><tspan x="772" y="0">)</tspan></text>
<rect class="m" x="621.93" y="-47.52" width="12.95" height="7.42"/>
<rect class="m" x="640.67" y="-47.52" width="12.26" height="7.42"/>
<rect class="m" x="739.23" y="-47.52" width="12.95" height="7.42"/>
<rect class="m" x="757.97" y="-47.52" width="12.26" height="7.42"/>
</g>
<text x="64.8" y="1234.5" font-size="132" font-weight="bold" style="fill:#231f20">a</text>
</g>
<g id="panel-b">
<g stroke="#070707" stroke-width="6.6" fill="none">
<path d="M509.6 1618v53M509.6 2770v-53"/>
<path d="M652.14 1618v27M652.14 2770v-27"/>
<path d="M794.68 1618v53M794.68 2770v-53"/>
<path d="M937.22 1618v27M937.22 2770v-27"/>
<path d="M1079.76 1618v53M1079.76 2770v-53"/>
<path d="M1222.3 1618v27M1222.3 2770v-27"/>
<path d="M1364.84 1618v53M1364.84 2770v-53"/>
<path d="M1507.38 1618v27M1507.38 2770v-27"/>
<path d="M1649.92 1618v53M1649.92 2770v-53"/>
<path d="M1792.46 1618v27M1792.46 2770v-27"/>
<path d="M1935 1618v53M1935 2770v-53"/>
<path d="M438 2702h53M2078 2702h-53"/>
<path d="M438 2634.25h27M2078 2634.25h-27"/>
<path d="M438 2566.5h53M2078 2566.5h-53"/>
<path d="M438 2498.75h27M2078 2498.75h-27"/>
<path d="M438 2431h53M2078 2431h-53"/>
<path d="M438 2363.25h27M2078 2363.25h-27"/>
<path d="M438 2295.5h53M2078 2295.5h-53"/>
<path d="M438 2227.75h27M2078 2227.75h-27"/>
<path d="M438 2160h53M2078 2160h-53"/>
<path d="M438 2092.25h27M2078 2092.25h-27"/>
<path d="M438 2024.5h53M2078 2024.5h-53"/>
<path d="M438 1956.75h27M2078 1956.75h-27"/>
<path d="M438 1889h53M2078 1889h-53"/>
<path d="M438 1821.25h27M2078 1821.25h-27"/>
<path d="M438 1753.5h53M2078 1753.5h-53"/>
<path d="M438 1685.75h27M2078 1685.75h-27"/>
</g>
<g color="#e52225">
<rect x="502.1" y="2630.2" width="15" height="52" stroke="none" fill="currentColor"/><rect x="500.6" y="2622.7" width="18" height="15" stroke="none" fill="currentColor"/><rect x="500.6" y="2674.7" width="18" height="15" stroke="none" fill="currentColor"/>
<rect x="673.2" y="2604.6" width="15" height="52" stroke="none" fill="currentColor"/><rect x="671.7" y="2597.1" width="18" height="15" stroke="none" fill="currentColor"/><rect x="671.7" y="2649.1" width="18" height="15" stroke="none" fill="currentColor"/>
<rect x="858.6" y="2564.4" width="15" height="52" stroke="none" fill="currentColor"/><rect x="857.1" y="2556.9" width="18" height="15" stroke="none" fill="currentColor"/><rect x="857.1" y="2608.9" width="18" height="15" stroke="none" fill="currentColor"/>
<rect x="1029.4" y="2477.6" width="15" height="86.4" stroke="none" fill="currentColor"/><rect x="1027.9" y="2470.1" width="18" height="15" stroke="none" fill="currentColor"/><rect x="1027.9" y="2556.5" width="18" height="15" stroke="none" fill="currentColor"/>
<rect x="1215" y="2457.7" width="15" height="64.6" stroke="none" fill="currentColor"/><rect x="1213.5" y="2450.2" width="18" height="15" stroke="none" fill="currentColor"/><rect x="1213.5" y="2514.8" width="18" height="15" stroke="none" fill="currentColor"/>
<rect x="1571" y="2249.5" width="15" height="93.4" stroke="none" fill="currentColor"/><rect x="1569.5" y="2242" width="18" height="15" stroke="none" fill="currentColor"/><rect x="1569.5" y="2335.4" width="18" height="15" stroke="none" fill="currentColor"/>
<rect x="1927.7" y="1712.3" width="15" height="428" stroke="none" fill="currentColor"/><rect x="1926.2" y="1704.8" width="18" height="15" stroke="none" fill="currentColor"/><rect x="1926.2" y="2132.8" width="18" height="15" stroke="none" fill="currentColor"/>
</g>
<g color="#3953a4">
<rect x="502.1" y="2630.1" width="15" height="52" stroke="none" fill="currentColor"/><rect x="500.6" y="2622.6" width="18" height="15" stroke="none" fill="currentColor"/><rect x="500.6" y="2674.6" width="18" height="15" stroke="none" fill="currentColor"/>
<rect x="673.2" y="2607.5" width="15" height="52" stroke="none" fill="currentColor"/><rect x="671.7" y="2600" width="18" height="15" stroke="none" fill="currentColor"/><rect x="671.7" y="2652" width="18" height="15" stroke="none" fill="currentColor"/>
<rect x="858.6" y="2572.5" width="15" height="52" stroke="none" fill="currentColor"/><rect x="857.1" y="2565" width="18" height="15" stroke="none" fill="currentColor"/><rect x="857.1" y="2617" width="18" height="15" stroke="none" fill="currentColor"/>
<rect x="1029.4" y="2490.2" width="15" height="85.2" stroke="none" fill="currentColor"/><rect x="1027.9" y="2482.7" width="18" height="15" stroke="none" fill="currentColor"/><rect x="1027.9" y="2567.9" width="18" height="15" stroke="none" fill="currentColor"/>
<rect x="1215" y="2477.5" width="15" height="61" stroke="none" fill="currentColor"/><rect x="1213.5" y="2470" width="18" height="15" stroke="none" fill="currentColor"/><rect x="1213.5" y="2531" width="18" height="15" stroke="none" fill="currentColor"/>
<rect x="1571" y="2274.5" width="15" height="92" stroke="none" fill="currentColor"/><rect x="1569.5" y="2267" width="18" height="15" stroke="none" fill="currentColor"/><rect x="1569.5" y="2359" width="18" height="15" stroke="none" fill="currentColor"/>
<rect x="1927.7" y="1739.3" width="15" height="432.6" stroke="none" fill="currentColor"/><rect x="1926.2" y="1731.8" width="18" height="15" stroke="none" fill="currentColor"/><rect x="1926.2" y="2164.4" width="18" height="15" stroke="none" fill="currentColor"/>
</g>
<g stroke="#e52225" stroke-width="15" fill="none" stroke-linecap="round" stroke-linejoin="round">
<path d="M509.6 2656.2L680.7 2630.6L866.1 2590.4L1036.9 2520.8L1222.5 2490L1578.5 2296.2L1935.2 1926.3"/>
</g>
<g stroke="#e52225" stroke-width="15" fill="none">
<circle cx="509.6" cy="2656.2" r="26"/>
<circle cx="680.7" cy="2630.6" r="26"/>
<circle cx="866.1" cy="2590.4" r="26"/>
<circle cx="1036.9" cy="2520.8" r="26"/>
<circle cx="1222.5" cy="2490" r="26"/>
<circle cx="1578.5" cy="2296.2" r="26"/>
<circle cx="1935.2" cy="1926.3" r="26"/>
</g>
<g stroke="#3953a4" stroke-width="15" fill="none" stroke-linecap="round" stroke-linejoin="round">
<path d="M509.6 2656.1L680.7 2633.5L866.1 2598.5L1036.9 2532.8L1222.5 2508L1578.5 2320.5L1935.2 1955.6"/>
</g>
<g stroke="#3953a4" stroke-width="15" fill="none">
<rect x="483.7" y="2630.5" width="51.8" height="51.2"/>
<rect x="654.8" y="2607.9" width="51.8" height="51.2"/>
<rect x="840.2" y="2572.9" width="51.8" height="51.2"/>
<rect x="1011" y="2507.2" width="51.8" height="51.2"/>
<rect x="1196.6" y="2482.4" width="51.8" height="51.2"/>
<rect x="1552.6" y="2294.9" width="51.8" height="51.2"/>
<rect x="1909.3" y="1930" width="51.8" height="51.2"/>
</g>
<rect x="438" y="1618" width="1640" height="1152" fill="none" stroke="#070707" stroke-width="11.9"/>
<g transform="translate(314.25 2724.2) scale(1 1.015)">
<text font-size="66">0.4</text>
</g>
<g transform="translate(314.25 2588.7) scale(1 1.015)">
<text font-size="66">0.6</text>
</g>
<g transform="translate(314.25 2453.2) scale(1 1.015)">
<text font-size="66">0.8</text>
</g>
<g transform="translate(314.25 2317.7) scale(1 1.015)">
<text font-size="66">1.0</text>
<rect class="m" x="3.3" y="-6.33" width="13.25" height="7.53"/>
<rect class="m" x="22.48" y="-6.33" width="12.54" height="7.53"/>
</g>
<g transform="translate(314.25 2182.2) scale(1 1.015)">
<text font-size="66">1.2</text>
<rect class="m" x="3.3" y="-6.33" width="13.25" height="7.53"/>
<rect class="m" x="22.48" y="-6.33" width="12.54" height="7.53"/>
</g>
<g transform="translate(314.25 2046.7) scale(1 1.015)">
<text font-size="66">1.4</text>
<rect class="m" x="3.3" y="-6.33" width="13.25" height="7.53"/>
<rect class="m" x="22.48" y="-6.33" width="12.54" height="7.53"/>
</g>
<g transform="translate(314.25 1911.2) scale(1 1.015)">
<text font-size="66">1.6</text>
<rect class="m" x="3.3" y="-6.33" width="13.25" height="7.53"/>
<rect class="m" x="22.48" y="-6.33" width="12.54" height="7.53"/>
</g>
<g transform="translate(314.25 1775.7) scale(1 1.015)">
<text font-size="66">1.8</text>
<rect class="m" x="3.3" y="-6.33" width="13.25" height="7.53"/>
<rect class="m" x="22.48" y="-6.33" width="12.54" height="7.53"/>
</g>
<g transform="translate(314.25 1640.2) scale(1 1.015)">
<text font-size="66">2.0</text>
</g>
<g transform="translate(463.73 2847.2) scale(1 1.015)">
<text font-size="66">0.0</text>
</g>
<g transform="translate(748.81 2847.2) scale(1 1.015)">
<text font-size="66">0.2</text>
</g>
<g transform="translate(1033.89 2847.2) scale(1 1.015)">
<text font-size="66">0.4</text>
</g>
<g transform="translate(1318.97 2847.2) scale(1 1.015)">
<text font-size="66">0.6</text>
</g>
<g transform="translate(1604.05 2847.2) scale(1 1.015)">
<text font-size="66">0.8</text>
</g>
<g transform="translate(1889.13 2847.2) scale(1 1.015)">
<text font-size="66">1.0</text>
<rect class="m" x="3.3" y="-6.33" width="13.25" height="7.53"/>
<rect class="m" x="22.48" y="-6.33" width="12.54" height="7.53"/>
</g>
<text x="749" y="2966" font-size="82">Grain composition (at.%Ag)</text>
<g transform="translate(246.4 2588) rotate(-90)">
<text x="0" y="0" font-size="82">Activation energy (ev)</text>
</g>
<text x="964.5" y="2346.5" font-size="82">Upper bound</text>
<text x="1386.5" y="2497.5" font-size="82">Lower bound</text>
<text x="56.5" y="2718" font-size="132" font-weight="bold" style="fill:#231f20">b</text>
</g>
</svg></body></html>
